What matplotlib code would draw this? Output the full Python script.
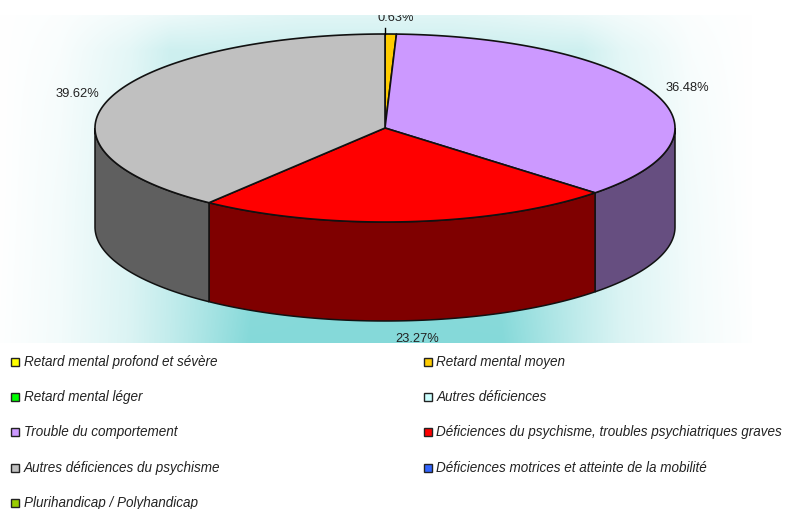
import numpy as np
import matplotlib
matplotlib.use("Agg")
import matplotlib.pyplot as plt
from matplotlib.patches import Polygon, Rectangle

plt.rcParams['font.family'] = ['Liberation Sans', 'DejaVu Sans']

categories = ["Retard mental profond et sévère", "Retard mental moyen", "Retard mental léger",
              "Autres déficiences", "Trouble du comportement",
              "Déficiences du psychisme, troubles psychiatriques graves",
              "Autres déficiences du psychisme", "Déficiences motrices et atteinte de la mobilité",
              "Plurihandicap / Polyhandicap"]
values = [0, 0.63, 0, 0, 36.48, 23.27, 39.62, 0, 0]
colors = ["#ffff00", "#ffcc00", "#00ff00", "#ccffff", "#cc99ff", "#ff0000", "#c0c0c0", "#3366ff", "#99cc00"]
side_colors = ["#7f7f00", "#7f6600", "#007f00", "#667f7f", "#664e80", "#7f0000", "#5f5f5f", "#19337f", "#4c6600"]
label_pos = {1: (396, 21), 4: (687.5, 91), 5: (417, 342), 6: (77, 97)}

fig = plt.figure(figsize=(7.85, 5.09), dpi=100)
ax = fig.add_axes([0, 0, 1, 1])
ax.axis("off")

# background gradient (table of strengths, mirrored around the centre)
BX0, BX1, BY0, BY1 = 0, 752, 15, 343
gx = np.array([0, 60, 130, 170, 200, 250, 300, 376])
gy = np.array([15, 50, 100, 200, 343])
gt = np.array([[0, .03, .10, .15, .18, .22, .25, .25],
               [0, .05, .22, .40, .40, .42, .42, .42],
               [0, .07, .25, .42, .5, .6, .7, .7],
               [0, .09, .28, .48, .6, .85, .95, .95],
               [.01, .10, .30, .50, .68, 1., 1., 1.]])
xs = np.arange(BX0, BX1) + .5
ys = np.arange(BY0, BY1) + .5
dx = np.minimum(xs - BX0, BX1 - xs)
rows = np.array([np.interp(dx, gx, r) for r in gt])
T = np.array([np.interp(ys, gy, rows[:, i]) for i in range(len(xs))]).T
teal = np.array([0x85, 0xd9, 0xd9]) / 255
img = 1 + T[..., None] * (teal - 1)
ax.imshow(img, extent=(BX0, BX1, BY1, BY0), aspect="auto", zorder=0, interpolation="bilinear")
ax.set_xlim(0, 785)
ax.set_ylim(509, 0)

CX, CY, RX, RY, DEPTH = 385, 128, 290, 94, 99


def pt(a):
    return CX + RX * np.sin(a), CY - RY * np.cos(a)


total = sum(values)
start = 0.0
wedges = []
for i, v in enumerate(values):
    end = start + v / total * 2 * np.pi
    if v > 0:
        wedges.append((i, start, end))
    start = end

for i, a0, a1 in wedges:
    lo, hi = max(a0, np.pi / 2), min(a1, 3 * np.pi / 2)
    if lo < hi:
        a = np.linspace(lo, hi, 120)
        x, y = pt(a)
        verts = np.r_[np.c_[x, y], np.c_[x[::-1], y[::-1] + DEPTH]]
        ax.add_patch(Polygon(verts, closed=True, fc=side_colors[i], ec="#111111", lw=1.1, zorder=2))

for i, a0, a1 in wedges:
    a = np.linspace(a0, a1, 200)
    x, y = pt(a)
    verts = np.r_[[[CX, CY]], np.c_[x, y]]
    ax.add_patch(Polygon(verts, closed=True, fc=colors[i], ec="#111111", lw=1.2, zorder=3, joinstyle="round"))

clip = Rectangle((BX0, BY0), BX1 - BX0, BY1 - BY0, transform=ax.transData)
ax.plot([CX, CX], [BY0 + 13, CY - RY], color="black", lw=1.0, zorder=4)
for i, v in enumerate(values):
    if i in label_pos:
        tx, ty = label_pos[i]
        t = ax.text(tx, ty, f"{v:.2f}%", fontsize=9.3, color="#222222",
                    ha="center", va="baseline", zorder=5)
        t.set_clip_path(clip)
        t.set_clip_on(True)

# legend
col_x = [11, 424]
row_y = [366, 401, 436, 472, 507]
for k, (name, c) in enumerate(zip(categories, colors)):
    lx = col_x[k % 2]
    ly = row_y[k // 2]
    ax.add_patch(Rectangle((lx, ly - 8.5), 7.5, 8.5, fc=c, ec="#222222", lw=1.0, zorder=3))
    ax.text(lx + 12.5, ly, name, fontsize=9.72, style="italic", color="#222222",
            ha="left", va="baseline", zorder=5)

fig.savefig("out.png", dpi=100)
